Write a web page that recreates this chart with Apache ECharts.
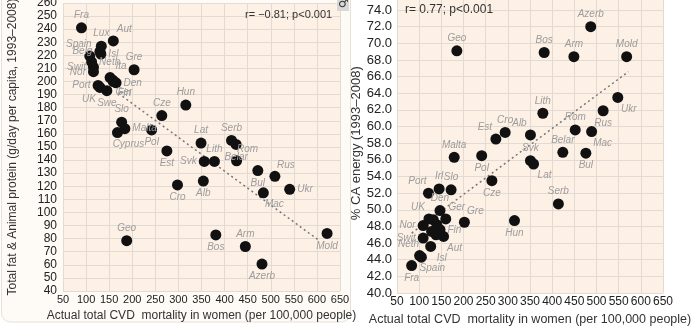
<!DOCTYPE html>
<html><head><meta charset="utf-8">
<script src="https://cdn.jsdelivr.net/npm/echarts@6/dist/echarts.min.js"></script>
<style>html,body{margin:0;padding:0;background:#fff}#c{width:695px;height:333px}</style>
</head><body><div id="c"></div>
<script>
// ---- Left panel data: fat & animal protein vs CVD mortality ----
const leftNames = ['Fra','Lux','Aut','Belg','Isl','Spain','Neth','Swit','Ita','Den','Nor','Port','UK','Swe','Fin','Ger','Gre','Hun','Cze','Slo','Malta','Cyprus','Pol','Est','Lat','Serb','Belar','Rom','Svk','Lith','Bul','Rus','Ukr','Mac','Cro','Alb','Geo','Bos','Arm','Azerb','Mold'];
const leftX = [90,133,159,130,132,108,112,116,152,165,116,126,130,145,159,158,204,316,264,177,184,168,242,275,349,415,425,426,356,378,472,509,541,484,298,354,188,381,445,481,622];
const leftY = [241,227,231,223,221,219.5,215,211,203,199,207.5,197,195.5,193,200,201,209,182,174,169,164,161,163,147,153,155,152,139.5,139,139,132,127.6,117.7,115,121,124,78.4,82.8,74,60.6,84];
const leftTrendX = [170, 605];
const leftTrendY = [191, 78.5];

// ---- Right panel data: % CA energy vs CVD mortality ----
const rightNames = ['Fra','Spain','Neth','Swit','Isl','Aut','Nor','UK','Swe','Lux','Belg','Ita','Den','Ger','Fin','Gre','Port','Irl','Slo','Malta','Pol','Cze','Est','Cro','Alb','Svk','Lat','Hun','Serb','Belar','Bul','Rom','Mac','Lith','Rus','Ukr','Geo','Bos','Arm','Azerb','Mold'];
const rightX = [83,105,101,109,126,155,109,122,132,140,128,138,147,160,147,202,121,145,172,179,241,264,273,294,351,351,358,315,414,424,476,452,489,379,515,548,185,382,449,487,568];
const rightY = [43.3,44.3,44.5,46.6,45.6,46.8,48.1,48.9,48.8,48.2,47.4,47.0,49.9,48.9,47.6,48.5,52.0,52.5,52.4,56.3,56.5,53.5,58.5,59.3,59.0,55.9,55.5,48.7,50.7,56.9,56.8,59.6,59.4,61.6,61.9,63.5,69.1,68.9,68.4,72.0,68.4];
const rightTrendX = [83, 572];
const rightTrendY = [47.2, 66.6];

// ---- label placement (style only) ----
const leftLabelPos = ['t','t','tr','l','r','tl','r','l','tr','r','l','l','bl','b','br','br','t','t','t','t','r','br','b','b','t','t','b','tr','l','t','b','tr','r','br','b','b','t','b','t','b','b'];
const rightLabelPos = ['b','br','tl','l','br','br','l','tl','n','n','n','n','t','tr','r','tr','tl','t','t','t','b','b','tl','t','tl','t','br','b','t','t','b','t','br','t','b','br','t','t','t','t','t'];

function lab(p){
  const m = {t:['top',[0,0]],b:['bottom',[0,0]],l:['left',[0,0]],r:['right',[0,0]],
    tr:['top',[11,1]],tl:['top',[-11,1]],br:['bottom',[11,-1]],bl:['bottom',[-11,-1]]};
  if(p==='n') return {show:false};
  return {show:true, position:m[p][0], offset:m[p][1], distance:2};
}
function pts(names,xs,ys,pos){
  return names.map((n,i)=>({name:n, value:[xs[i],ys[i]], label:lab(pos[i])}));
}
const labelStyle = {formatter:'{b}', fontStyle:'italic', fontSize:10, color:'#9c9c9c', fontFamily:'Liberation Sans, Arial, sans-serif'};
const tickFont = 'Liberation Sans, Arial, sans-serif';
const split = {show:true, lineStyle:{color:'#e3dbd3', width:1}};

const chart = echarts.init(document.getElementById('c'), null, {renderer:'canvas'});
chart.setOption({
  animation:false,
  backgroundColor:'#ffffff',
  graphic:[
    {type:'rect', z:-10, shape:{x:1.5, y:-12, width:349, height:334, r:9}, style:{fill:'#fefaf6', stroke:'#e6e0da', lineWidth:1}},
    {type:'text', z:10, left:245, top:9, style:{text:'r= \u22120.81; p<0.001', font:'11px Liberation Sans, Arial, sans-serif', fill:'#333'}},
    {type:'text', z:10, left:405, top:4, style:{text:'r= 0.77; p<0.001', font:'12px Liberation Sans, Arial, sans-serif', fill:'#333'}},
    {type:'rect', z:10, shape:{x:337, y:0, width:12, height:11}, style:{fill:'#d8d8d8'}},
    {type:'text', z:11, left:338, top:-2, style:{text:'\u2642', font:'bold 12px DejaVu Sans', fill:'#333'}}
  ],
  grid:[
    {left:63, right:355, top:3, bottom:42, show:true, backgroundColor:'#fdf0e5', borderWidth:0, outerBoundsMode:'none', containLabel:false},
    {left:397, right:32, top:-6.6, bottom:40, show:true, backgroundColor:'#fdf0e5', borderWidth:0, outerBoundsMode:'none', containLabel:false}
  ],
  xAxis:[
    {gridIndex:0, type:'value', min:50, max:650, interval:50,
     axisLine:{show:false}, axisTick:{show:false}, splitLine:split,
     axisLabel:{color:'#222', fontSize:11, margin:3, fontFamily:tickFont},
     name:'Actual total CVD  mortality in women (per 100,000 people)', nameLocation:'middle', nameGap:16,
     nameTextStyle:{color:'#333', fontSize:12, fontFamily:tickFont}},
    {gridIndex:1, type:'value', min:50, max:650, interval:50,
     axisLine:{show:false}, axisTick:{show:false}, splitLine:split,
     axisLabel:{color:'#222', fontSize:12, margin:3, fontFamily:tickFont},
     name:'Actual total CVD  mortality in women (per 100,000 people)', nameLocation:'middle', nameGap:13,
     nameTextStyle:{color:'#333', fontSize:12.5, fontFamily:tickFont}}
  ],
  yAxis:[
    {gridIndex:0, type:'value', min:40, max:260, interval:10,
     axisLine:{show:false}, axisTick:{show:false}, splitLine:split,
     axisLabel:{color:'#222', fontSize:12, margin:6, fontFamily:tickFont},
     name:'Total fat & Animal protein (g/day per capita, 1993\u20132008)', nameLocation:'middle', nameGap:44,
     nameTextStyle:{color:'#333', fontSize:12, fontFamily:tickFont}},
    {gridIndex:1, type:'value', min:40, max:76, interval:2,
     axisLine:{show:false}, axisTick:{show:false}, splitLine:split,
     axisLabel:{color:'#222', fontSize:13, margin:5, fontFamily:tickFont, formatter:v=>v.toFixed(1)},
     name:'% CA energy (1993\u20132008)', nameLocation:'middle', nameGap:32,
     nameTextStyle:{color:'#333', fontSize:13, fontFamily:tickFont}}
  ],
  series:[
    {type:'line', xAxisIndex:0, yAxisIndex:0, data:leftTrendX.map((x,i)=>[x,leftTrendY[i]]), symbol:'none', silent:true,
     lineStyle:{color:'#777', width:1.5, type:[2,3]}, z:1},
    {type:'scatter', xAxisIndex:0, yAxisIndex:0, data:pts(leftNames,leftX,leftY,leftLabelPos), symbolSize:11,
     itemStyle:{color:'#111', opacity:1}, label:labelStyle, z:3},
    {type:'line', xAxisIndex:1, yAxisIndex:1, data:rightTrendX.map((x,i)=>[x,rightTrendY[i]]), symbol:'none', silent:true,
     lineStyle:{color:'#777', width:1.5, type:[2,3]}, z:1},
    {type:'scatter', xAxisIndex:1, yAxisIndex:1, data:pts(rightNames,rightX,rightY,rightLabelPos), symbolSize:11,
     itemStyle:{color:'#111', opacity:1}, label:labelStyle, z:3}
  ]
});
</script></body></html>
